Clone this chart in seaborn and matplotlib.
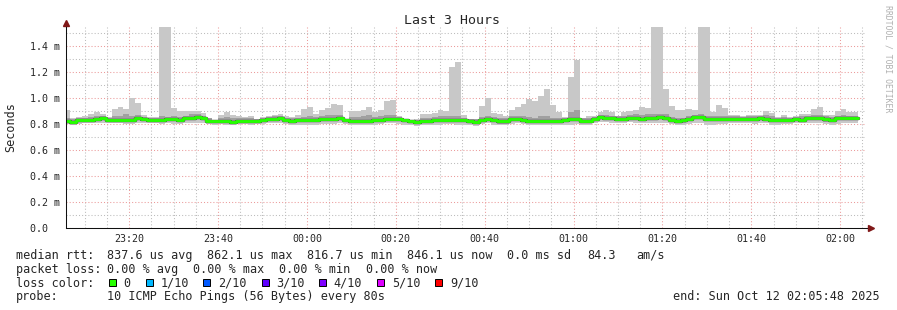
import numpy as np
import pandas as pd
import matplotlib
matplotlib.use("Agg")
import matplotlib.pyplot as plt
import seaborn as sns
from matplotlib.patches import Rectangle

# ---------------- data ----------------
window_start = "2025-10-11 23:05:48"
first_bar_start = "2025-10-11 23:05:24"
step_seconds = 80

# max ping per 80 s step
smoke_hi = [
    0.908, 0.849, 0.854, 0.862, 0.877, 0.895, 0.877, 0.854, 0.915, 0.930,
    0.915, 1.000, 0.961, 0.870, 0.856, 0.856, 1.800, 1.750, 0.923, 0.897,
    0.897, 0.900, 0.900, 0.885, 0.849, 0.831, 0.867, 0.892, 0.869, 0.859,
    0.854, 0.862, 0.838, 0.854, 0.859, 0.869, 0.877, 0.864, 0.854, 0.867,
    0.913, 0.930, 0.877, 0.908, 0.923, 0.954, 0.946, 0.840, 0.897, 0.897,
    0.908, 0.930, 0.895, 0.910, 0.979, 0.987, 0.864, 0.841, 0.831, 0.835,
    0.877, 0.877, 0.885, 0.908, 0.897, 1.238, 1.277, 0.867, 0.841, 0.841,
    0.938, 1.000, 0.885, 0.877, 0.864, 0.905, 0.928, 0.951, 0.990, 0.974,
    1.015, 1.069, 0.946, 0.892, 0.851, 1.162, 1.292, 0.846, 0.859, 0.859,
    0.890, 0.908, 0.892, 0.864, 0.892, 0.900, 0.908, 0.930, 0.923, 1.850,
    1.800, 1.069, 0.938, 0.908, 0.908, 0.915, 0.908, 1.900, 1.700, 0.892,
    0.946, 0.923, 0.869, 0.866, 0.859, 0.869, 0.869, 0.869, 0.897, 0.887,
    0.851, 0.869, 0.854, 0.859, 0.877, 0.877, 0.915, 0.930, 0.869, 0.869,
    0.900, 0.915, 0.892, 0.892,
]
# min ping per step
smoke_lo = [
    0.800, 0.795, 0.800, 0.805, 0.805, 0.810, 0.810, 0.805, 0.805, 0.805, 0.800, 0.800,
    0.810, 0.805, 0.805, 0.805, 0.800, 0.805, 0.800, 0.800, 0.805, 0.805, 0.810,
    0.805, 0.800, 0.795, 0.800, 0.790, 0.795, 0.800, 0.800, 0.795, 0.800, 0.800, 0.805,
    0.810, 0.810, 0.800, 0.795, 0.795, 0.790, 0.790, 0.795, 0.800, 0.800, 0.800,
    0.805, 0.800, 0.795, 0.795, 0.790, 0.790, 0.795, 0.800, 0.805, 0.805, 0.800,
    0.795, 0.790, 0.785, 0.790, 0.795, 0.790, 0.795, 0.800, 0.800, 0.795, 0.790,
    0.790, 0.785, 0.800, 0.805, 0.795, 0.790, 0.790, 0.800, 0.805, 0.800, 0.790, 0.790,
    0.795, 0.790, 0.795, 0.795, 0.790, 0.795, 0.800, 0.790, 0.790, 0.805, 0.815,
    0.815, 0.810, 0.805, 0.810, 0.815, 0.810, 0.810, 0.810, 0.805, 0.805, 0.810, 0.800,
    0.790, 0.795, 0.800, 0.810, 0.805, 0.795, 0.795, 0.800, 0.800, 0.805, 0.810,
    0.805, 0.805, 0.800, 0.810, 0.805, 0.795, 0.795, 0.800, 0.800, 0.805,
    0.805, 0.810, 0.810, 0.805, 0.800, 0.795, 0.800, 0.805, 0.805, 0.805,
]
# inner (darker) smoke band
inner_hi = [
    0.845, 0.835, 0.845, 0.850, 0.855, 0.860, 0.860, 0.850, 0.860, 0.865, 0.875, 0.865,
    0.870, 0.855, 0.845, 0.845, 0.860, 0.855, 0.860, 0.855, 0.865, 0.875, 0.880,
    0.865, 0.845, 0.830, 0.850, 0.855, 0.845, 0.845, 0.845, 0.845, 0.835, 0.845, 0.855,
    0.860, 0.865, 0.850, 0.845, 0.850, 0.855, 0.860, 0.855, 0.860, 0.870, 0.870,
    0.870, 0.835, 0.855, 0.855, 0.860, 0.870, 0.855, 0.860, 0.870, 0.870, 0.855,
    0.840, 0.828, 0.830, 0.850, 0.850, 0.855, 0.860, 0.860, 0.860, 0.865, 0.850,
    0.840, 0.835, 0.855, 0.860, 0.855, 0.850, 0.845, 0.860, 0.865, 0.860, 0.855, 0.850,
    0.860, 0.865, 0.850, 0.850, 0.850, 0.890, 0.910, 0.845, 0.845, 0.855, 0.870,
    0.870, 0.865, 0.860, 0.865, 0.870, 0.875, 0.870, 0.875, 0.880, 0.880, 0.880, 0.855,
    0.850, 0.850, 0.860, 0.870, 0.880, 0.865, 0.860, 0.860, 0.860, 0.860, 0.860,
    0.855, 0.860, 0.860, 0.865, 0.870, 0.860, 0.850, 0.855, 0.850, 0.855,
    0.860, 0.865, 0.870, 0.870, 0.860, 0.855, 0.865, 0.870, 0.865, 0.865,
]
inner_lo = [
    0.810, 0.805, 0.812, 0.815, 0.815, 0.822, 0.828, 0.818, 0.818, 0.818, 0.812, 0.815,
    0.830, 0.820, 0.812, 0.812, 0.815, 0.820, 0.820, 0.815, 0.828, 0.832, 0.838,
    0.828, 0.810, 0.808, 0.808, 0.810, 0.802, 0.810, 0.810, 0.810, 0.810, 0.812, 0.820,
    0.825, 0.828, 0.812, 0.808, 0.812, 0.812, 0.812, 0.812, 0.822, 0.822, 0.825,
    0.828, 0.815, 0.810, 0.810, 0.808, 0.805, 0.812, 0.818, 0.825, 0.825, 0.820,
    0.815, 0.805, 0.800, 0.808, 0.810, 0.812, 0.815, 0.818, 0.818, 0.815, 0.812,
    0.805, 0.800, 0.815, 0.822, 0.815, 0.802, 0.802, 0.820, 0.820, 0.815, 0.808, 0.805,
    0.805, 0.805, 0.808, 0.808, 0.815, 0.820, 0.820, 0.805, 0.805, 0.825, 0.838,
    0.830, 0.830, 0.825, 0.825, 0.830, 0.830, 0.825, 0.830, 0.832, 0.835, 0.832, 0.815,
    0.808, 0.810, 0.820, 0.835, 0.840, 0.825, 0.820, 0.822, 0.822, 0.825, 0.825,
    0.822, 0.825, 0.825, 0.828, 0.825, 0.815, 0.812, 0.812, 0.812, 0.820,
    0.815, 0.828, 0.830, 0.828, 0.818, 0.815, 0.828, 0.832, 0.828, 0.828,
]
# median rtt per step
median_rtt = [
    0.821, 0.818, 0.828, 0.828, 0.828, 0.838, 0.844, 0.833, 0.833, 0.833,
    0.828, 0.831, 0.846, 0.836, 0.828, 0.828, 0.833, 0.838, 0.838, 0.831,
    0.844, 0.849, 0.854, 0.844, 0.826, 0.823, 0.823, 0.826, 0.818, 0.826,
    0.826, 0.826, 0.826, 0.828, 0.836, 0.841, 0.844, 0.828, 0.823, 0.831,
    0.831, 0.831, 0.831, 0.838, 0.838, 0.841, 0.844, 0.831, 0.826, 0.826,
    0.826, 0.823, 0.831, 0.833, 0.841, 0.841, 0.836, 0.833, 0.821, 0.818,
    0.826, 0.826, 0.831, 0.831, 0.833, 0.833, 0.833, 0.831, 0.823, 0.818,
    0.833, 0.838, 0.833, 0.821, 0.821, 0.838, 0.838, 0.833, 0.826, 0.823,
    0.821, 0.821, 0.826, 0.826, 0.833, 0.838, 0.838, 0.823, 0.823, 0.841,
    0.854, 0.846, 0.846, 0.841, 0.841, 0.846, 0.846, 0.841, 0.846, 0.849,
    0.851, 0.849, 0.833, 0.826, 0.828, 0.838, 0.851, 0.856, 0.841, 0.836,
    0.838, 0.838, 0.841, 0.841, 0.838, 0.841, 0.841, 0.844, 0.841, 0.833,
    0.831, 0.831, 0.831, 0.838, 0.833, 0.844, 0.846, 0.844, 0.836, 0.833,
    0.844, 0.849, 0.844, 0.844,
]

x_tick_times = ["2025-10-11 23:20", "2025-10-11 23:40", "2025-10-12 00:00",
                "2025-10-12 00:20", "2025-10-12 00:40", "2025-10-12 01:00",
                "2025-10-12 01:20", "2025-10-12 01:40", "2025-10-12 02:00"]
x_tick_labels = ["23:20", "23:40", "00:00", "00:20", "00:40", "01:00",
                 "01:20", "01:40", "02:00"]
y_ticks = [0.0, 0.2, 0.4, 0.6, 0.8, 1.0, 1.2, 1.4]
y_tick_labels = ["0.0  ", "0.2 m", "0.4 m", "0.6 m", "0.8 m", "1.0 m", "1.2 m", "1.4 m"]
y_minor = [0.1, 0.3, 0.5, 0.7, 0.9, 1.1, 1.3, 1.5]

rtt_stats = ["837.6 us avg", "862.1 us max", "816.7 us min", "846.1 us now",
             "0.0 ms sd", "84.3", "am/s"]
loss_stats = ["0.00 % avg", "0.00 % max", "0.00 % min", "0.00 % now"]
loss_labels = ["0", "1/10", "2/10", "3/10", "4/10", "5/10", "9/10"]
loss_colors = ["#26ff00", "#00b8ff", "#0059ff", "#5e00ff", "#7e00ff", "#dd00ff", "#ff0000"]
probe_text = "10 ICMP Echo Pings (56 Bytes) every 80s"
end_text = "end: Sun Oct 12 02:05:48 2025"
title = "Last 3 Hours"

# ---------------- figure ----------------
sns.set_style("white")
plt.rcParams["font.family"] = ["DejaVu Sans Mono"]

W, H = 897, 310
fig = plt.figure(figsize=(W / 100, H / 100), dpi=100)
fig.patch.set_facecolor("white")
ax = fig.add_axes([66 / W, 82 / H, 800 / W, 201 / H])
ax.set_facecolor("white")

t0 = pd.Timestamp(window_start)
minute = pd.Timedelta(minutes=1)
n = len(median_rtt)
starts = (pd.date_range(first_bar_start, periods=n, freq=f"{step_seconds}s") - t0) / minute
starts = np.asarray(starts, dtype=float)
xe = np.append(starts, starts[-1] + step_seconds / 60.0)

def ext(a):
    a = np.asarray(a, dtype=float)
    return np.append(a, a[-1])

ax.fill_between(xe, ext(smoke_lo), ext(smoke_hi), step="post", color="#c8c8c8",
                lw=0, zorder=2)
ax.fill_between(xe, ext(inner_lo), ext(inner_hi), step="post", color="#a0a0a0",
                lw=0, zorder=3)
df = pd.DataFrame({"t": xe, "median": ext(median_rtt)})
sns.lineplot(data=df, x="t", y="median", estimator=None, drawstyle="steps-post",
             color="#505050", lw=2.5, ax=ax, zorder=4)
sns.lineplot(data=df, x="t", y="median", estimator=None, drawstyle="steps-post",
             color="#26ff00", lw=2.1, ax=ax, zorder=5)

ax.set_xlim(0, 180)
ax.set_ylim(0, (228 - 27) / 130.0)
ax.set_xlabel("")
ax.set_ylabel("")

major_x = [(pd.Timestamp(t) - t0) / minute for t in x_tick_times]
minor_times = pd.date_range("2025-10-11 23:10", "2025-10-12 02:05", freq="5min")
minor_x = [(t - t0) / minute for t in minor_times if t.minute % 20 != 0]
ax.set_xticks(major_x)
ax.set_xticklabels(x_tick_labels, fontsize=7.2)
ax.set_xticks(minor_x, minor=True)
ax.set_yticks(y_ticks)
ax.set_yticklabels(y_tick_labels, fontsize=7.2)
ax.set_yticks(y_minor, minor=True)
ax.tick_params(which="both", length=0)
ax.tick_params(axis="x", pad=4.5)
ax.tick_params(axis="y", pad=4.5)

ax.set_axisbelow(True)
ax.grid(which="minor", color="#bcbcbc", linestyle=(0, (1, 2)), linewidth=0.75)
ax.grid(which="major", color="#eb9a9a", linestyle=(0, (1, 2)), linewidth=0.75)

for s in ["top", "right"]:
    ax.spines[s].set_visible(False)
for s in ["left", "bottom"]:
    ax.spines[s].set_color("#101010")
    ax.spines[s].set_linewidth(0.75)
    ax.spines[s].set_zorder(6)

arrow_c = "#801818"
ax.plot([0, 0], [1, 1.02], color="#101010", lw=0.75, transform=ax.transAxes, clip_on=False)
ax.plot([1, 1.006], [0, 0], color="#101010", lw=0.75, transform=ax.transAxes, clip_on=False)
ax.plot([0], [1.022], marker="^", ms=4, color=arrow_c, transform=ax.transAxes, clip_on=False)
ax.plot([1.0065], [0], marker=">", ms=4, color=arrow_c, transform=ax.transAxes, clip_on=False)

def ftxt(x, y, s, **kw):
    fig.text(x / W, 1 - y / H, s, **kw)

ftxt(452, 24.5, title, ha="center", va="baseline", fontsize=9.5)
ftxt(11, 127.5, "Seconds", rotation=90, ha="center", va="center", fontsize=8.5)
ftxt(888, 5, "RRDTOOL / TOBI OETIKER", rotation=270, ha="center", va="top",
     fontsize=5.9, color="#b0b0b0")

fs = 8.5
b1, b2, b3, b4 = 259, 272.8, 286.6, 300.4
ftxt(16, b1, "median rtt:", fontsize=fs, va="baseline")
for s, x in zip(rtt_stats, [107.3, 207.3, 307.3, 407.3, 507.3, 587, 636]):
    ftxt(x, b1, s, fontsize=fs, va="baseline")
ftxt(16, b2, "packet loss:", fontsize=fs, va="baseline")
for s, x in zip(loss_stats, [107.3, 193.3, 279.3, 365.7]):
    ftxt(x, b2, s, fontsize=fs, va="baseline")
ftxt(16, b3, "loss color:", fontsize=fs, va="baseline")
for lab, col, bx in zip(loss_labels, loss_colors, [109, 145.7, 203.3, 261.7, 319.3, 377.3, 435.3]):
    fig.add_artist(Rectangle((bx / W, 1 - 285.5 / H), 7 / W, 7 / H,
                             transform=fig.transFigure, facecolor=col,
                             edgecolor="black", lw=0.7))
    ftxt(bx + 14.5, b3, lab, fontsize=fs, va="baseline")
ftxt(16, b4, "probe:", fontsize=fs, va="baseline")
ftxt(107.3, b4, probe_text, fontsize=fs, va="baseline")
ftxt(880, b4, end_text, fontsize=fs, va="baseline", ha="right")

fig.savefig("out.png", dpi=100, facecolor="white")
